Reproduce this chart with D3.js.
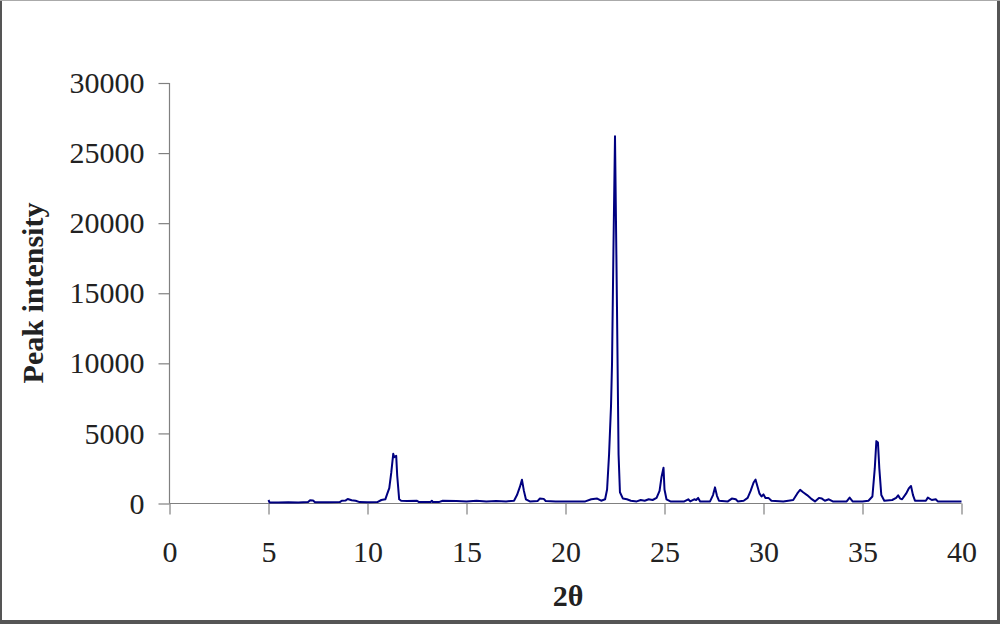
<!DOCTYPE html>
<html>
<head>
<meta charset="utf-8">
<script src="https://cdn.jsdelivr.net/npm/d3@7"></script>
<style>
  html, body { margin: 0; padding: 0; background: #fff; }
  svg { display: block; }
</style>
</head>
<body>
<svg id="chart" width="1000" height="624"></svg>
<script>
// ---- data ----
const twoTheta = [
  5.0, 5.05, 5.5, 6.0, 6.5, 7.0, 7.1, 7.25, 7.35, 8.0, 8.6, 8.7, 8.9, 9.0, 9.2, 9.4, 9.6, 10.0,
  10.5, 10.7, 10.9, 11.0, 11.1, 11.2, 11.3, 11.35, 11.45, 11.5, 11.6, 11.7, 12.0, 12.5, 12.6,
  13.2, 13.25, 13.3, 13.6, 13.8, 14.5, 15.0, 15.5, 16.0, 16.5, 17.0, 17.4, 17.55, 17.7, 17.8,
  17.9, 18.0, 18.2, 18.6, 18.7, 18.9, 19.0, 19.5, 20.0, 21.0, 21.3, 21.6, 21.8, 22.0, 22.1,
  22.2, 22.3, 22.35, 22.42, 22.5, 22.6, 22.68, 22.75, 22.9, 23.1, 23.3, 23.6, 23.8, 24.0,
  24.2, 24.4, 24.6, 24.75, 24.85, 24.95, 25.0, 25.1, 25.3, 26.0, 26.2, 26.3, 26.5, 26.6,
  26.7, 26.8, 27.3, 27.45, 27.55, 27.65, 27.75, 28.2, 28.4, 28.6, 28.7, 29.0, 29.2, 29.35,
  29.5, 29.6, 29.7, 29.8, 29.9, 30.0, 30.1, 30.25, 30.4, 31.0, 31.5, 31.7, 31.85, 32.0, 32.2,
  32.4, 32.6, 32.8, 32.95, 33.1, 33.3, 33.5, 34.2, 34.35, 34.5, 35.0, 35.3, 35.5, 35.62, 35.7,
  35.78, 35.85, 35.95, 36.1, 36.5, 36.7, 36.8, 36.9, 37.0, 37.2, 37.35, 37.45, 37.55, 37.65,
  38.2, 38.3, 38.5, 38.7, 38.8, 39.0, 40.0
];
const intensity = [
  250, 80, 80, 90, 80, 100, 230, 220, 90, 90, 100, 200, 220, 320, 230, 200, 100, 90,
  100, 250, 300, 700, 1100, 2200, 3550, 3300, 3400, 2000, 300, 200, 180, 200, 100,
  110, 200, 100, 100, 200, 180, 150, 200, 150, 180, 150, 200, 600, 1200, 1700,
  900, 300, 150, 180, 350, 330, 180, 150, 150, 150, 300, 350, 200, 300, 1000,
  3500, 7000, 10000, 18000, 26200, 14000, 3500, 800, 350, 300, 200, 150, 250, 200,
  300, 250, 400, 900, 1900, 2550, 1000, 300, 150, 150, 300, 150, 300, 250,
  400, 150, 150, 600, 1150, 550, 200, 150, 350, 300, 150, 200, 400, 900,
  1500, 1700, 1200, 700, 500, 650, 400, 400, 200, 150, 250, 700, 980, 800, 600,
  350, 150, 400, 350, 200, 300, 150, 150, 420, 150, 150, 200, 500, 2500, 4450,
  4350, 2500, 600, 200, 250, 400, 580, 350, 300, 700, 1100, 1250, 600, 200,
  200, 420, 250, 300, 150, 150, 150
];
const xTicks = [0, 5, 10, 15, 20, 25, 30, 35, 40];
const yTicks = [0, 5000, 10000, 15000, 20000, 25000, 30000];
const xLabel = "2θ";
const yLabel = "Peak intensity";

// ---- chart ----
const svg = d3.select("#chart");
const W = 1000, H = 624;
const x = d3.scaleLinear().domain([0, 40]).range([169.5, 961.5]);
const y = d3.scaleLinear().domain([0, 30000]).range([503.5, 83]);

// frame
svg.append("rect").attr("x", 1).attr("y", 0.5).attr("width", W - 3).attr("height", H - 3.5)
  .attr("fill", "#fff").attr("stroke", "none");
svg.append("line").attr("x1", 1).attr("x2", 1).attr("y1", 0).attr("y2", H).attr("stroke", "#555").attr("stroke-width", 2);
svg.append("line").attr("x1", 998.5).attr("x2", 998.5).attr("y1", 0).attr("y2", H).attr("stroke", "#555").attr("stroke-width", 3);
svg.append("line").attr("x1", 0).attr("x2", W).attr("y1", 622).attr("y2", 622).attr("stroke", "#555").attr("stroke-width", 4);
svg.append("line").attr("x1", 0).attr("x2", W).attr("y1", 0.5).attr("y2", 0.5).attr("stroke", "#aaa").attr("stroke-width", 1);

const font = "'Liberation Serif', 'Times New Roman', serif";

// y axis
const yAxis = svg.append("g").attr("transform", `translate(${x(0)},0)`)
  .call(d3.axisLeft(y).tickValues(yTicks).tickSize(11).tickPadding(14).tickFormat(d3.format("d")));
// x axis
const xAxis = svg.append("g").attr("transform", `translate(0,${y(0)})`)
  .call(d3.axisBottom(x).tickValues(xTicks).tickSize(11).tickPadding(26).tickFormat(d3.format("d")));

[yAxis, xAxis].forEach(g => {
  g.select(".domain").attr("stroke", "#808080").attr("stroke-width", 1.2);
  g.selectAll(".tick line").attr("stroke", "#808080").attr("stroke-width", 1.2);
  g.selectAll(".tick text").attr("fill", "#222").style("font-family", font).style("font-size", "30px");
});
// extend domain lines without end caps
yAxis.select(".domain").attr("d", `M0,${y(0)}V${y(30000)}`);
xAxis.select(".domain").attr("d", `M${x(0)},0H${x(40)}`);

// data line
const pts = twoTheta.map((t, i) => [t, intensity[i]]);
svg.append("path")
  .datum(pts)
  .attr("fill", "none")
  .attr("stroke", "#000080")
  .attr("stroke-width", 2)
  .attr("stroke-linejoin", "round")
  .attr("d", d3.line().x(d => x(d[0])).y(d => y(d[1])));

// axis titles
svg.append("text")
  .attr("x", 568).attr("y", 606)
  .attr("text-anchor", "middle")
  .style("font-family", font).style("font-size", "30px").style("font-weight", "bold")
  .attr("fill", "#222")
  .text(xLabel);
svg.append("text")
  .attr("transform", "translate(43,293) rotate(-90)")
  .attr("text-anchor", "middle")
  .style("font-family", font).style("font-size", "30px").style("font-weight", "bold")
  .attr("fill", "#222")
  .text(yLabel);
</script>
</body>
</html>
